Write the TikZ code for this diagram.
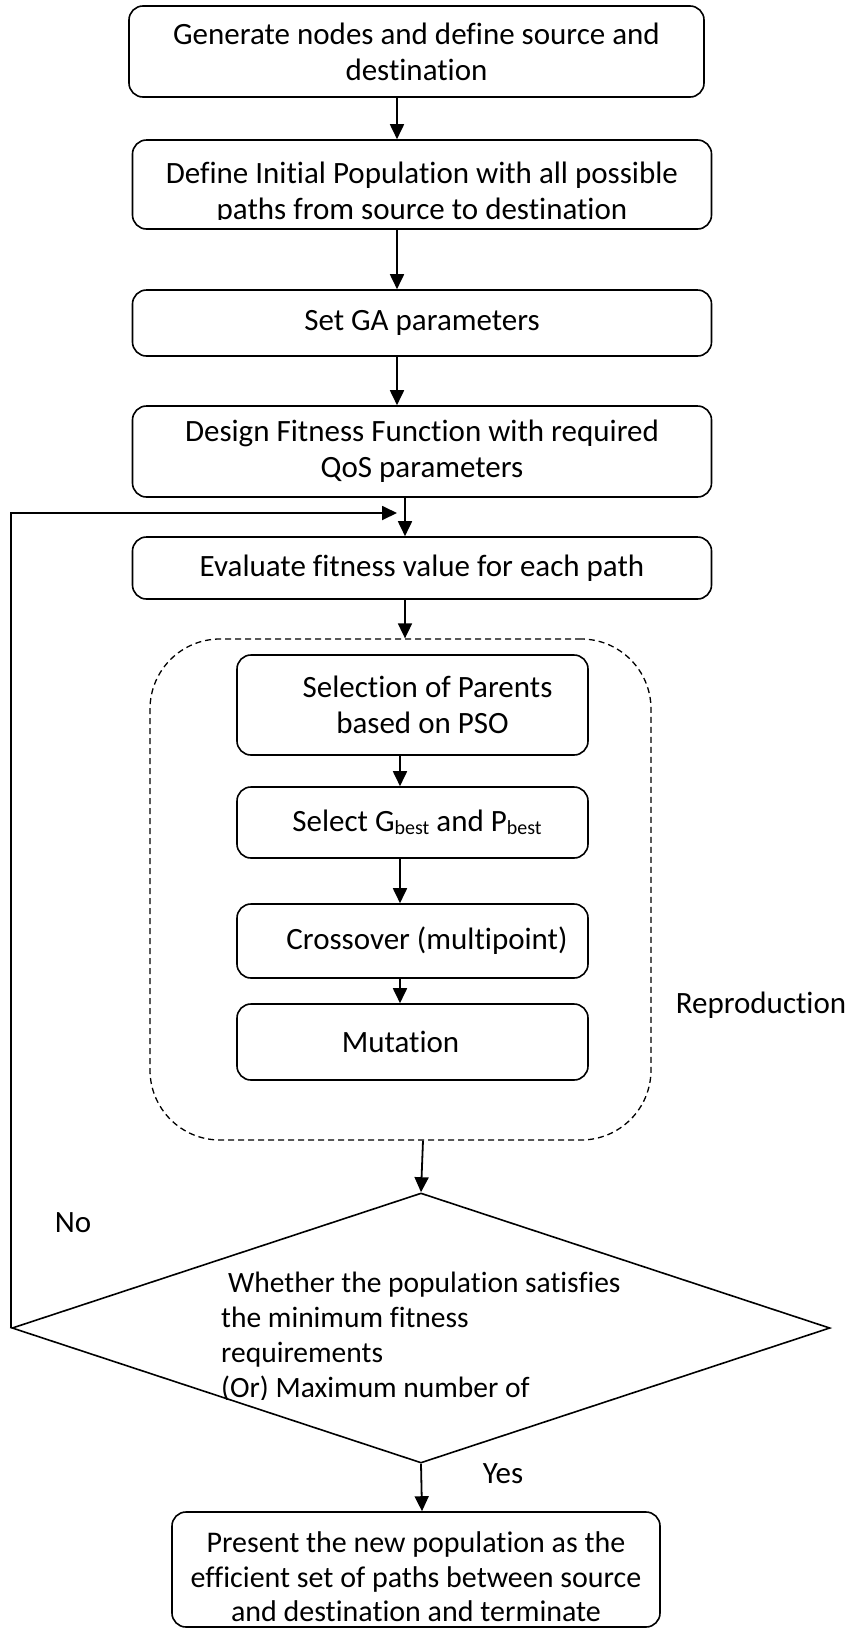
\documentclass[tikz,border=0pt]{standalone}
\usepackage{fontspec}
\setmainfont[Ligatures={NoCommon}]{Carlito}
\usetikzlibrary{shapes.geometric,arrows.meta,positioning}
\newcommand\flowfont{\fontsize{31}{36}\selectfont}
\newcommand\decfont{\fontsize{29.5}{35}\selectfont}
\newcommand\subbest{\raisebox{-0.22ex}{\fontsize{20}{20}\selectfont best}}

\begin{document}
\begin{tikzpicture}[x=1pt,y=-1pt,
  blk/.style={draw, rounded corners=14pt, line width=1.6pt,
              minimum width=579pt, inner sep=0pt,
              align=center, font=\flowfont},
  inblk/.style={blk, minimum width=351pt},
  txt/.style={inner sep=0pt, font=\flowfont},
  arr/.style={-{Triangle[length=15pt,width=14pt]}, line width=1.8pt}
]
  \useasboundingbox (0,0) rectangle (845,1628);

  %% Main chain
  \node[blk, minimum width=575pt, minimum height=91pt] (gen) at (416.5,51.5)
    {Generate nodes and define source and\\destination};
  \node[blk, minimum height=89pt] (pop) at (422,184.5) {};
  \begin{scope}
    \clip (133,140) rectangle (712,219);
    \node[txt, align=center] (poptxt) at (422,193)
      {Define Initial Population with all possible\\paths from source to destination};
  \end{scope}
  \node[blk, minimum height=66pt] (ga)   at (422,323)   {Set GA parameters};
  \node[blk, minimum height=91pt] (fit)  at (422,451.5)
    {Design Fitness Function with required\\QoS parameters};
  \node[blk, minimum height=62pt] (eval) at (422,568)
    {Evaluate fitness value for each path};

  %% Reproduction block
  \node[draw, dash pattern=on 6pt off 4pt, line width=1.3pt, rounded corners=70pt,
        minimum width=501pt, minimum height=501pt] (rep) at (400.5,889.5) {};
  \node[inblk, minimum height=100pt] (sel)   at (412.5,705)
    {\hspace*{30pt}Selection of Parents\\\hspace*{20pt}based on PSO};
  \node[inblk, minimum height=71pt] (best)  at (412.5,822.5)
    {\hspace*{9pt}Select G\subbest{} and P\subbest};
  \node[inblk, minimum height=74pt] (cross) at (412.5,941)
    {\hspace*{29pt}Crossover (multipoint)};
  \node[inblk, minimum height=76pt] (mut)   at (412.5,1042)
    {Mutation\hspace*{24pt}};
  \node[txt] (reptxt) at (761,1005) {Reproduction};

  %% Decision
  \begin{scope}
    \clip (0,1240) rectangle (845,1399);
    \node[txt, font=\decfont, align=left, anchor=north west] (dectxt) at (221,1272)
      {\hspace*{7pt}Whether the population satisfies\\the minimum fitness\\
       requirements\\(Or) Maximum number of};
  \end{scope}
  \node[draw, diamond, line width=1.6pt, inner sep=0pt,
        minimum width=818pt, minimum height=270pt] (dec) at (421,1328) {};
  \node[txt] (no)  at (73,1223)  {No};
  \node[txt] (yes) at (503,1474) {Yes};

  %% Result
  \node[blk, minimum width=488pt, minimum height=115pt] (fin) at (416,1569.5) {};
  \node[txt, align=center, font=\fontsize{30}{34.5}\selectfont] (fintxt) at (416,1577)
    {Present the new population as the\\efficient set of paths between source\\
     and destination and terminate};

  %% Connectors
  \coordinate (fb) at (397,513);
  \draw[arr] ([xshift=-19.5pt]gen.south) -- ([xshift=-25pt]pop.north);
  \draw[arr] ([xshift=-25pt]pop.south) -- ([xshift=-25pt]ga.north);
  \draw[arr] ([xshift=-25pt]ga.south)  -- ([xshift=-25pt]fit.north);
  \draw[arr] ([xshift=-17pt]fit.south) -- ([xshift=-17pt]eval.north);
  \draw[arr] (dec.west) |- (fb);
  \draw[arr] ([xshift=-17pt]eval.south) -- ([xshift=4.5pt]rep.north);
  \draw[arr] ([xshift=-12.5pt]sel.south)  -- ([xshift=-12.5pt]best.north);
  \draw[arr] ([xshift=-12.5pt]best.south) -- ([xshift=-12.5pt]cross.north);
  \draw[arr] ([xshift=-12.5pt]cross.south) -- ([xshift=-12.5pt]mut.north);
  \draw[arr] ([xshift=22.5pt]rep.south) -- (dec.north);
  \draw[arr] (dec.south) -- ([xshift=6pt]fin.north);
\end{tikzpicture}
\end{document}
